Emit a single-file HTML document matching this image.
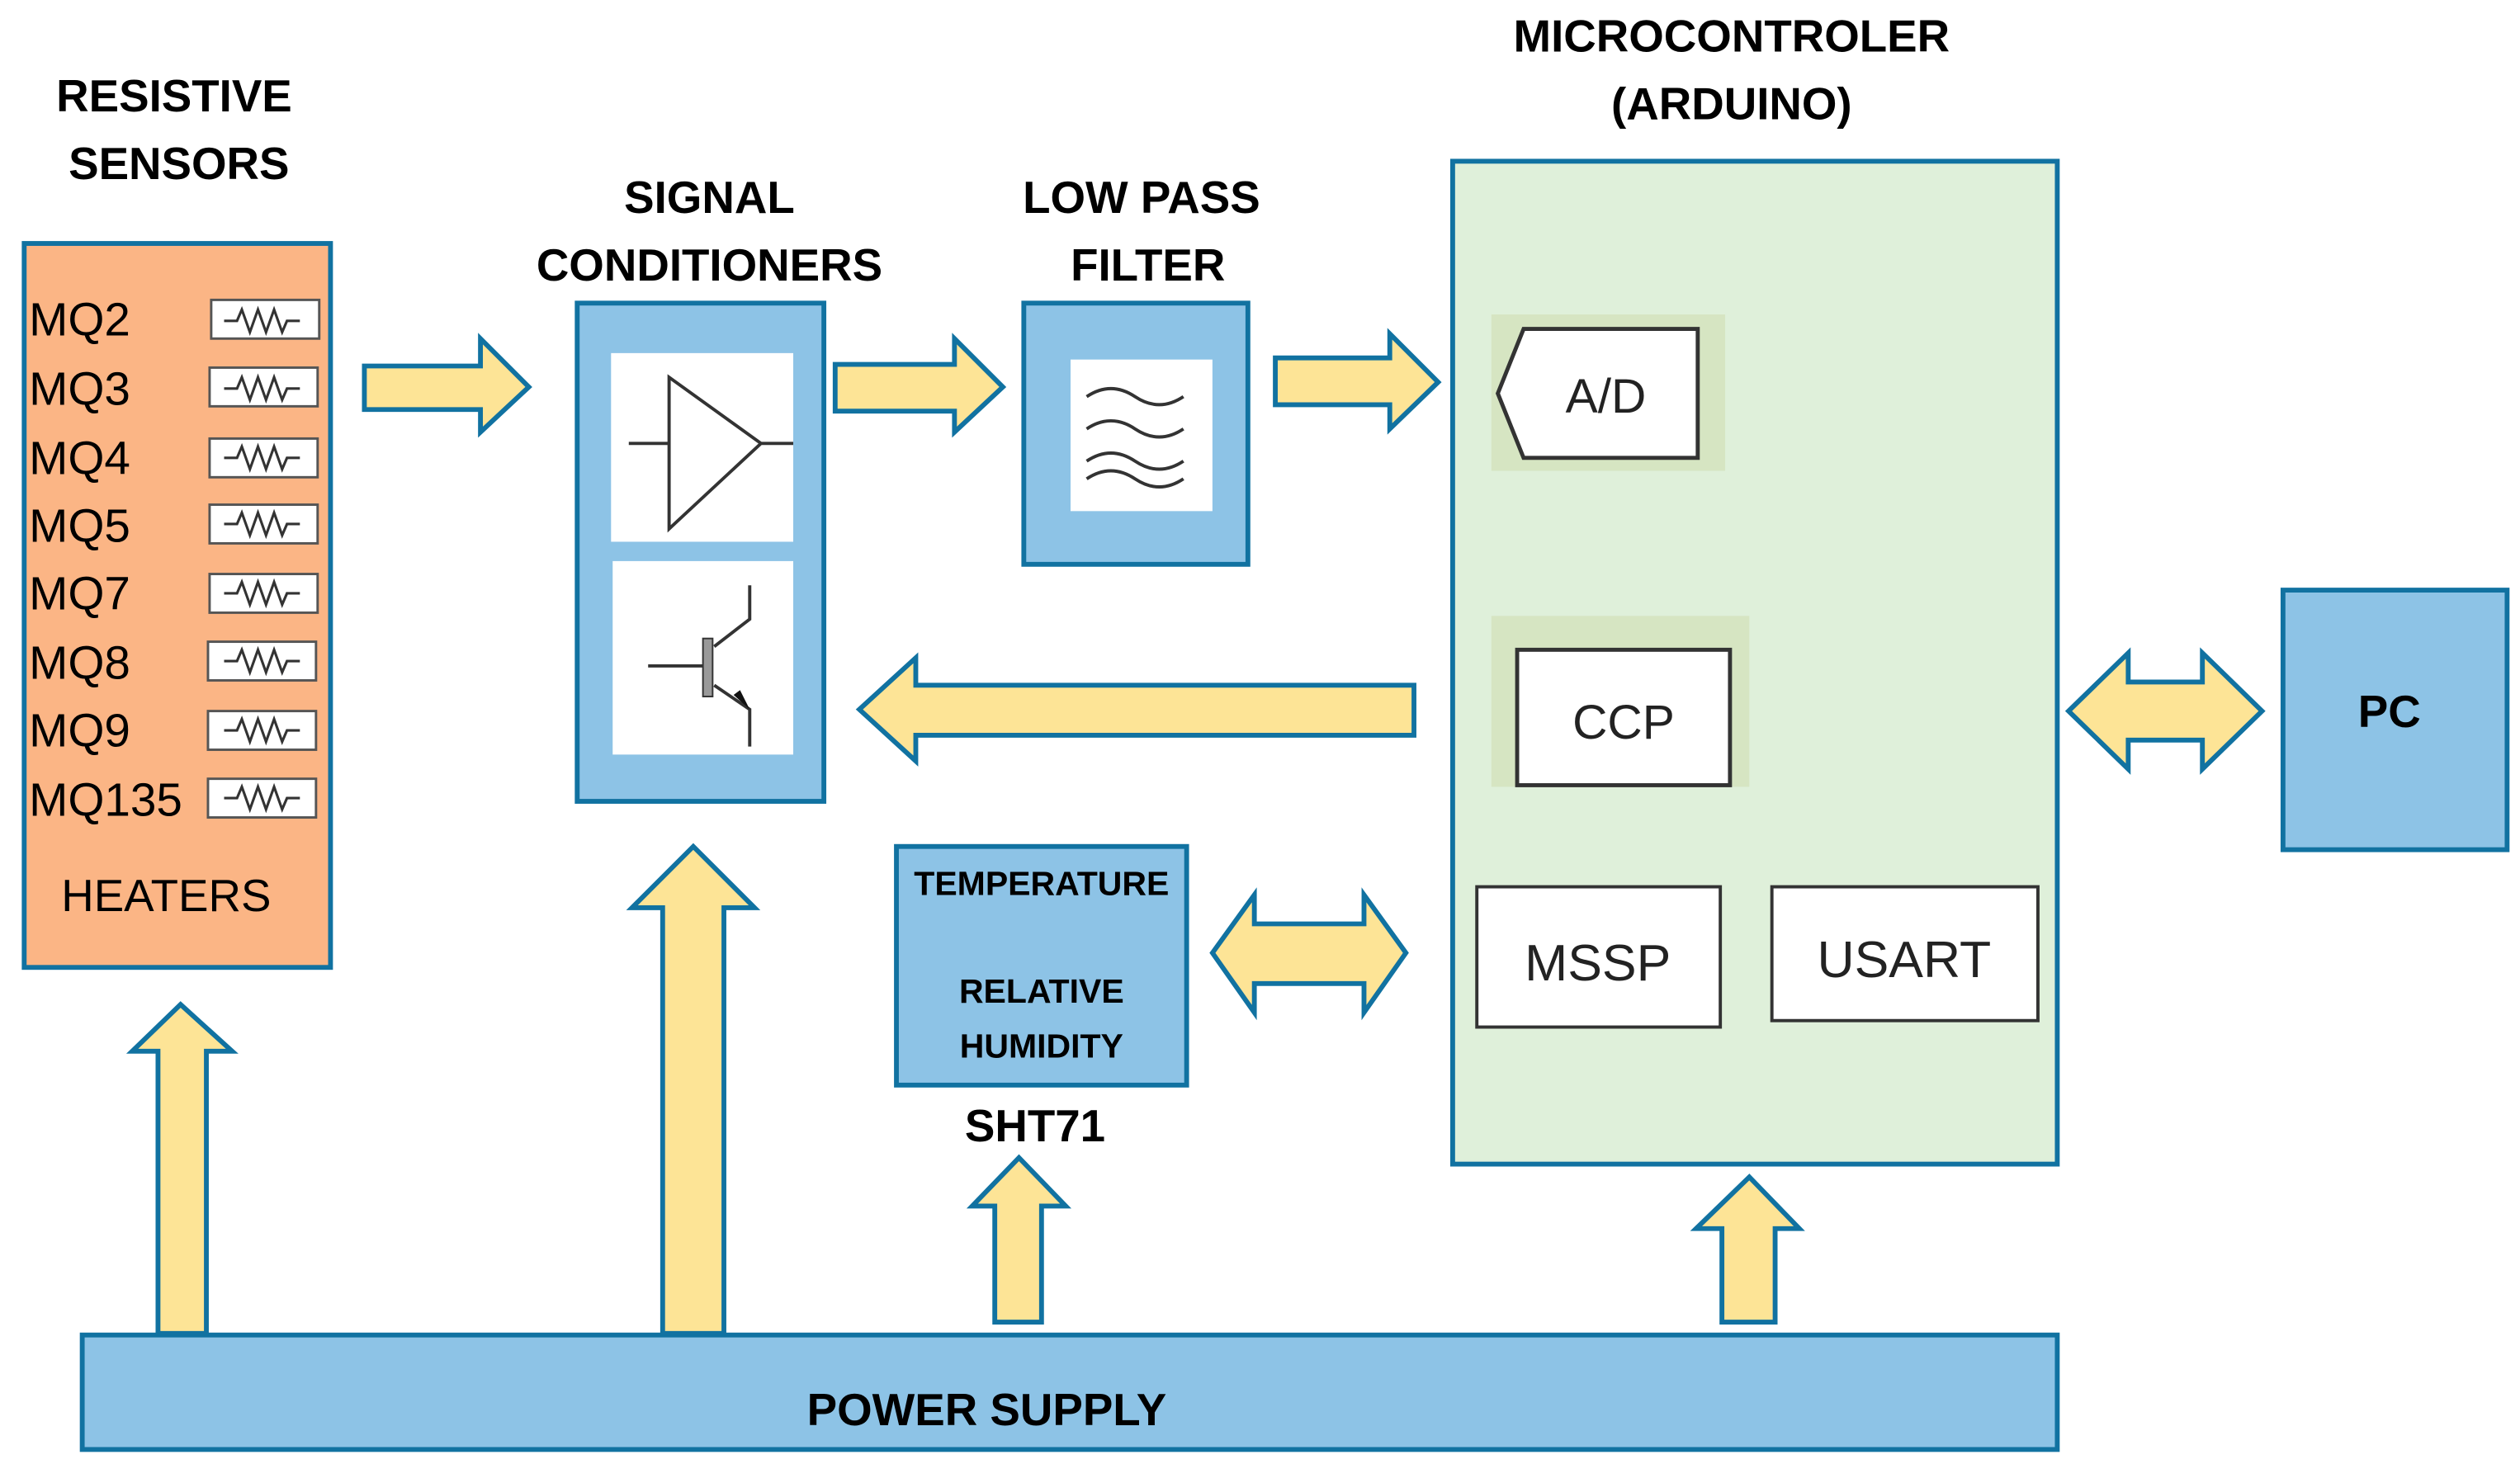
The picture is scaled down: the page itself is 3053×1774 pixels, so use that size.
<!DOCTYPE html>
<html><head><style>html,body{margin:0;padding:0;background:#fff}svg{display:block}</style></head><body>
<svg width="3053" height="1774" viewBox="0 0 1563 908" preserveAspectRatio="none" xmlns="http://www.w3.org/2000/svg" font-family="Liberation Sans, sans-serif">
<g stroke="#1172a1" stroke-width="3">
<rect x="15" y="151" width="190" height="449" fill="#fbb585"/>
<rect x="358" y="188" width="153" height="309" fill="#8dc3e6"/>
<rect x="635" y="188" width="139" height="162" fill="#8dc3e6"/>
<rect x="901" y="100" width="375" height="622" fill="#dff0da"/>
<rect x="1416" y="366" width="139" height="161" fill="#8dc3e6"/>
<rect x="556" y="525" width="180" height="148" fill="#8dc3e6"/>
<rect x="51" y="828" width="1225" height="71" fill="#8dc3e6"/>
</g>
<g stroke="#1172a1" stroke-width="3" fill="#fde496" stroke-linejoin="miter">
<polygon points="226,227 298,227 298,210 328,240 298,268 298,254 226,254"/>
<polygon points="518,226 592,226 592,210 622,240 592,268 592,255 518,255"/>
<polygon points="791,222 862,222 862,207 892,237 862,266 862,251 791,251"/>
<polygon points="877,425 568,425 568,408 533,440 568,472 568,456 877,456"/>
<polygon points="98,827 98,652 82,652 112,623 144,652 128,652 128,827"/>
<polygon points="411,827 411,563 392,563 430,525 468,563 449,563 449,827"/>
<polygon points="617,820 617,748 603,748 632,718 661,748 646,748 646,820"/>
<polygon points="1068,820 1068,762 1052,762 1085,730 1116,762 1101,762 1101,820"/>
<polygon points="752,591 778,555 778,573 846,573 846,555 872,591 846,628 846,610 778,610 778,628"/>
<polygon points="1283,441 1320,405 1320,423 1366,423 1366,405 1403,441 1366,477 1366,459 1320,459 1320,477"/>
</g>
<g font-size="29" fill="#000">
<text x="18" y="208">MQ2</text><text x="18" y="251">MQ3</text><text x="18" y="294">MQ4</text><text x="18" y="336">MQ5</text>
<text x="18" y="378">MQ7</text><text x="18" y="421">MQ8</text><text x="18" y="463">MQ9</text><text x="18" y="506">MQ135</text>
<text x="38" y="565" font-size="28">HEATERS</text>
</g>
<g fill="#fff" stroke="#555" stroke-width="1.5">
<rect x="131" y="186" width="67" height="24"/><rect x="130" y="228" width="67" height="24"/><rect x="130" y="272" width="67" height="24"/>
<rect x="130" y="313" width="67" height="24"/><rect x="130" y="356" width="67" height="24"/><rect x="129" y="398" width="67" height="24"/>
<rect x="129" y="441" width="67" height="24"/><rect x="129" y="483" width="67" height="24"/>
</g>
<g fill="none" stroke="#333" stroke-width="1.6">
<path id="r" d="M139,199 h8 l3,-7 l5,14 l5,-14 l5,14 l5,-14 l5,14 l3,-7 h8"/>
<use href="#r" y="42"/><use href="#r" y="85"/><use href="#r" y="126"/><use href="#r" y="169"/><use href="#r" y="211"/><use href="#r" y="254"/><use href="#r" y="296"/>
</g>
<rect x="379" y="219" width="113" height="117" fill="#fff"/>
<rect x="380" y="348" width="112" height="120" fill="#fff"/>
<g fill="none" stroke="#333" stroke-width="2">
<path d="M415,234 V328 L472,275 Z M390,275 h25 M472,275 h20"/>
<path d="M402,413 h35 M465,363 V384 L443,401 M443,425 L465,440 V463"/>
</g>
<polygon points="465,440 455,431 459,428" fill="#111"/>
<rect x="436" y="396" width="6" height="36" fill="#999" stroke="#333"/>
<rect x="664" y="223" width="88" height="94" fill="#fff"/>
<g fill="none" stroke="#333" stroke-width="2">
<path d="M674,246 q15,-10 30,0 t30,0"/><path d="M674,266 q15,-10 30,0 t30,0"/><path d="M674,286 q15,-10 30,0 t30,0"/><path d="M674,297 q15,-10 30,0 t30,0"/>
</g>
<rect x="925" y="195" width="145" height="97" fill="#d6e5c2"/>
<polygon points="945,204 1053,204 1053,284 945,284 929,244" fill="#fff" stroke="#333" stroke-width="2.5"/>
<text x="996" y="256" font-size="30" text-anchor="middle" fill="#222">A/D</text>
<rect x="925" y="382" width="160" height="106" fill="#d6e5c2"/>
<rect x="941" y="403" width="132" height="84" fill="#fff" stroke="#333" stroke-width="2.5"/>
<text x="1007" y="458" font-size="30" text-anchor="middle" fill="#222">CCP</text>
<rect x="916" y="550" width="151" height="87" fill="#fff" stroke="#333" stroke-width="2"/>
<text x="991" y="608" font-size="32" text-anchor="middle" fill="#222">MSSP</text>
<rect x="1099" y="550" width="165" height="83" fill="#fff" stroke="#333" stroke-width="2"/>
<text x="1181" y="606" font-size="32" text-anchor="middle" fill="#222">USART</text>
<g font-weight="bold" fill="#000" text-anchor="middle" font-size="28">
<text x="108" y="69">RESISTIVE</text><text x="111" y="111">SENSORS</text>
<text x="440" y="132">SIGNAL</text><text x="440" y="174">CONDITIONERS</text>
<text x="708" y="132">LOW PASS</text><text x="712" y="174">FILTER</text>
<text x="1074" y="32">MICROCONTROLER</text><text x="1074" y="74">(ARDUINO)</text>
<text x="1482" y="451">PC</text>
<text x="642" y="708">SHT71</text>
<text x="612" y="884">POWER SUPPLY</text>
<text x="646" y="555" font-size="21">TEMPERATURE</text>
<text x="646" y="622" font-size="21">RELATIVE</text>
<text x="646" y="656" font-size="21">HUMIDITY</text>
</g>
</svg>
</body></html>
